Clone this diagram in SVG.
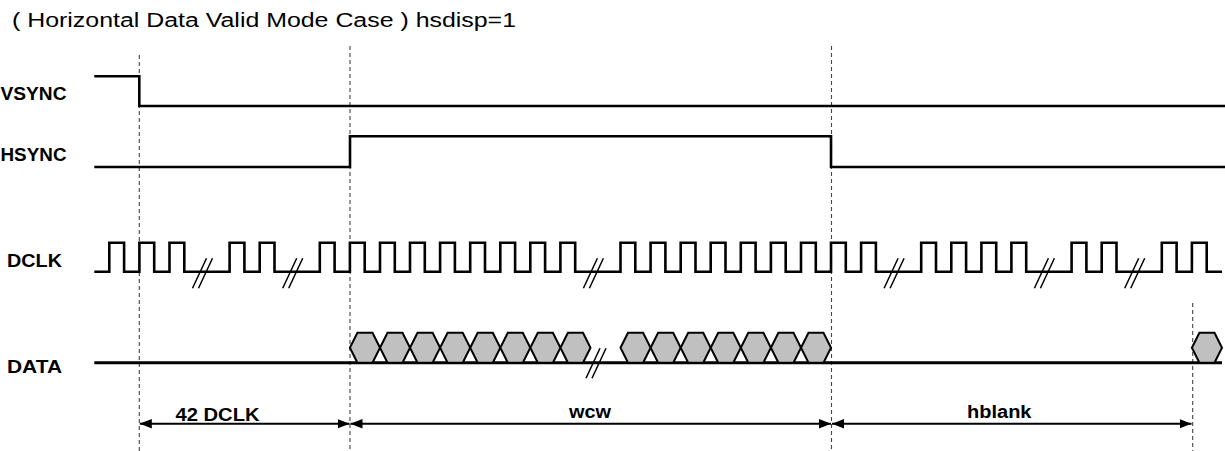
<svg xmlns="http://www.w3.org/2000/svg" width="1225" height="451" viewBox="0 0 1225 451">
<style>
.bg{fill:#fff}
.t{font-family:"Liberation Sans",Arial,sans-serif;fill:#000}
.title{font-size:20px}
.lbl{font-size:18px;font-weight:bold}
.wave{fill:none;stroke:#000;stroke-width:2.6;stroke-linejoin:miter;stroke-linecap:butt}
.brk{fill:none;stroke:#000;stroke-width:1.5}
.hex{fill:#c0c0c0;stroke:#000;stroke-width:2;stroke-linejoin:miter}
.guide{fill:none;stroke:#444;stroke-width:1.1;stroke-dasharray:4 3}
.dim{fill:none;stroke:#000;stroke-width:2;marker-start:url(#ah);marker-end:url(#ah)}
</style>
<defs>
<marker id="ah" viewBox="0 0 12 10" refX="12" refY="5" markerWidth="12" markerHeight="10" markerUnits="userSpaceOnUse" orient="auto-start-reverse">
<path d="M0,0.3 L12,5 L0,9.7 z" fill="#000"/>
</marker>
</defs>
<rect class="bg" x="0" y="0" width="1225" height="451"/>

<g id="title">
<text class="t title" x="12" y="26.7" textLength="504" lengthAdjust="spacingAndGlyphs">( Horizontal Data Valid Mode Case ) hsdisp=1</text>
</g>

<g id="guides">
<line class="guide" x1="139.3" y1="55" x2="139.3" y2="451"/>
<line class="guide" x1="350" y1="46" x2="350" y2="451"/>
<line class="guide" x1="831.5" y1="46" x2="831.5" y2="451"/>
<line class="guide" x1="1192.7" y1="303" x2="1192.7" y2="451"/>
</g>

<g id="vsync">
<text class="t lbl" x="0.5" y="100" textLength="66" lengthAdjust="spacingAndGlyphs">VSYNC</text>
<path class="wave" d="M94.3,76.3 H139.3 V106 H1225"/>
</g>

<g id="hsync">
<text class="t lbl" x="0.5" y="160.7" textLength="66" lengthAdjust="spacingAndGlyphs">HSYNC</text>
<path class="wave" d="M94.3,167 H350 V136.3 H831 V167 H1225"/>
</g>

<g id="dclk">
<text class="t lbl" x="7" y="266.7" textLength="55" lengthAdjust="spacingAndGlyphs">DCLK</text>
<path class="wave" d="M94.3,271.8 H109.3 V242.7 H124.1 V271.8 H139.4 V242.7 H154.2 V271.8 H169.5 V242.7 H184.3 V271.8 H229.6 V242.7 H244.4 V271.8 H259.7 V242.7 H274.5 V271.8 H319.8 V242.7 H334.6 V271.8 H349.9 V242.7 H364.7 V271.8 H380 V242.7 H394.8 V271.8 H410 V242.7 H424.8 V271.8 H440.1 V242.7 H454.9 V271.8 H470.2 V242.7 H485 V271.8 H500.3 V242.7 H515.1 V271.8 H530.3 V242.7 H545.1 V271.8 H560.4 V242.7 H575.2 V271.8 H620.5 V242.7 H635.3 V271.8 H650.6 V242.7 H665.4 V271.8 H680.7 V242.7 H695.5 V271.8 H710.7 V242.7 H725.5 V271.8 H740.8 V242.7 H755.6 V271.8 H770.9 V242.7 H785.7 V271.8 H801 V242.7 H815.8 V271.8 H831 V242.7 H845.8 V271.8 H861.1 V242.7 H875.9 V271.8 H921.2 V242.7 H936 V271.8 H951.3 V242.7 H966.1 V271.8 H981.4 V242.7 H996.2 V271.8 H1011.4 V242.7 H1026.2 V271.8 H1071.6 V242.7 H1086.4 V271.8 H1101.7 V242.7 H1116.5 V271.8 H1161.8 V242.7 H1176.6 V271.8 H1191.9 V242.7 H1206.7 V271.8 H1222"/>
<path class="brk" d="M192.5,288.3 L206.5,258.3 M198.5,288.3 L212.5,258.3 M282.7,288.3 L296.7,258.3 M288.7,288.3 L302.7,258.3 M583.4,288.3 L597.4,258.3 M589.4,288.3 L603.4,258.3 M884.1,288.3 L898.1,258.3 M890.1,288.3 L904.1,258.3 M1034.4,288.3 L1048.4,258.3 M1040.4,288.3 L1054.4,258.3 M1124.7,288.3 L1138.7,258.3 M1130.7,288.3 L1144.7,258.3"/>
</g>

<g id="data">
<text class="t lbl" x="7" y="373.3" textLength="55" lengthAdjust="spacingAndGlyphs">DATA</text>
<path class="wave" style="stroke-width:3" d="M94.3,362.7 H1222"/>
<g id="data-group1">
<polygon class="hex" points="349.9,347.7 357.4,332.7 372.5,332.7 380,347.7 372.5,362.7 357.4,362.7"/>
<polygon class="hex" points="380,347.7 387.5,332.7 402.5,332.7 410,347.7 402.5,362.7 387.5,362.7"/>
<polygon class="hex" points="410,347.7 417.5,332.7 432.6,332.7 440.1,347.7 432.6,362.7 417.5,362.7"/>
<polygon class="hex" points="440.1,347.7 447.6,332.7 462.7,332.7 470.2,347.7 462.7,362.7 447.6,362.7"/>
<polygon class="hex" points="470.2,347.7 477.7,332.7 492.8,332.7 500.3,347.7 492.8,362.7 477.7,362.7"/>
<polygon class="hex" points="500.3,347.7 507.8,332.7 522.8,332.7 530.3,347.7 522.8,362.7 507.8,362.7"/>
<polygon class="hex" points="530.3,347.7 537.8,332.7 552.9,332.7 560.4,347.7 552.9,362.7 537.8,362.7"/>
<polygon class="hex" points="560.4,347.7 567.9,332.7 583,332.7 590.5,347.7 583,362.7 567.9,362.7"/>
</g>
<g id="data-group2">
<polygon class="hex" points="620.5,347.7 628,332.7 643.1,332.7 650.6,347.7 643.1,362.7 628,362.7"/>
<polygon class="hex" points="650.6,347.7 658.1,332.7 673.2,332.7 680.7,347.7 673.2,362.7 658.1,362.7"/>
<polygon class="hex" points="680.7,347.7 688.2,332.7 703.2,332.7 710.7,347.7 703.2,362.7 688.2,362.7"/>
<polygon class="hex" points="710.7,347.7 718.2,332.7 733.3,332.7 740.8,347.7 733.3,362.7 718.2,362.7"/>
<polygon class="hex" points="740.8,347.7 748.3,332.7 763.4,332.7 770.9,347.7 763.4,362.7 748.3,362.7"/>
<polygon class="hex" points="770.9,347.7 778.4,332.7 793.5,332.7 801,347.7 793.5,362.7 778.4,362.7"/>
<polygon class="hex" points="801,347.7 808.5,332.7 823.5,332.7 831,347.7 823.5,362.7 808.5,362.7"/>
</g>
<polygon class="hex" points="1191.9,347.7 1199.4,332.7 1214.5,332.7 1222,347.7 1214.5,362.7 1199.4,362.7"/>
<path class="brk" d="M586,378.3 L600,348.3 M592,378.3 L606,348.3"/>
</g>

<g id="connectors">
<line class="dim" x1="139.8" y1="423.7" x2="349.5" y2="423.7"/>
<line class="dim" x1="350.5" y1="423.7" x2="831" y2="423.7"/>
<line class="dim" x1="832" y1="423.7" x2="1191.5" y2="423.7"/>
<text class="t lbl" x="175.5" y="420.7" textLength="84" lengthAdjust="spacingAndGlyphs">42 DCLK</text>
<text class="t lbl" x="569" y="418" textLength="42" lengthAdjust="spacingAndGlyphs">wcw</text>
<text class="t lbl" x="967" y="417.7" textLength="64.5" lengthAdjust="spacingAndGlyphs">hblank</text>
</g>
</svg>
